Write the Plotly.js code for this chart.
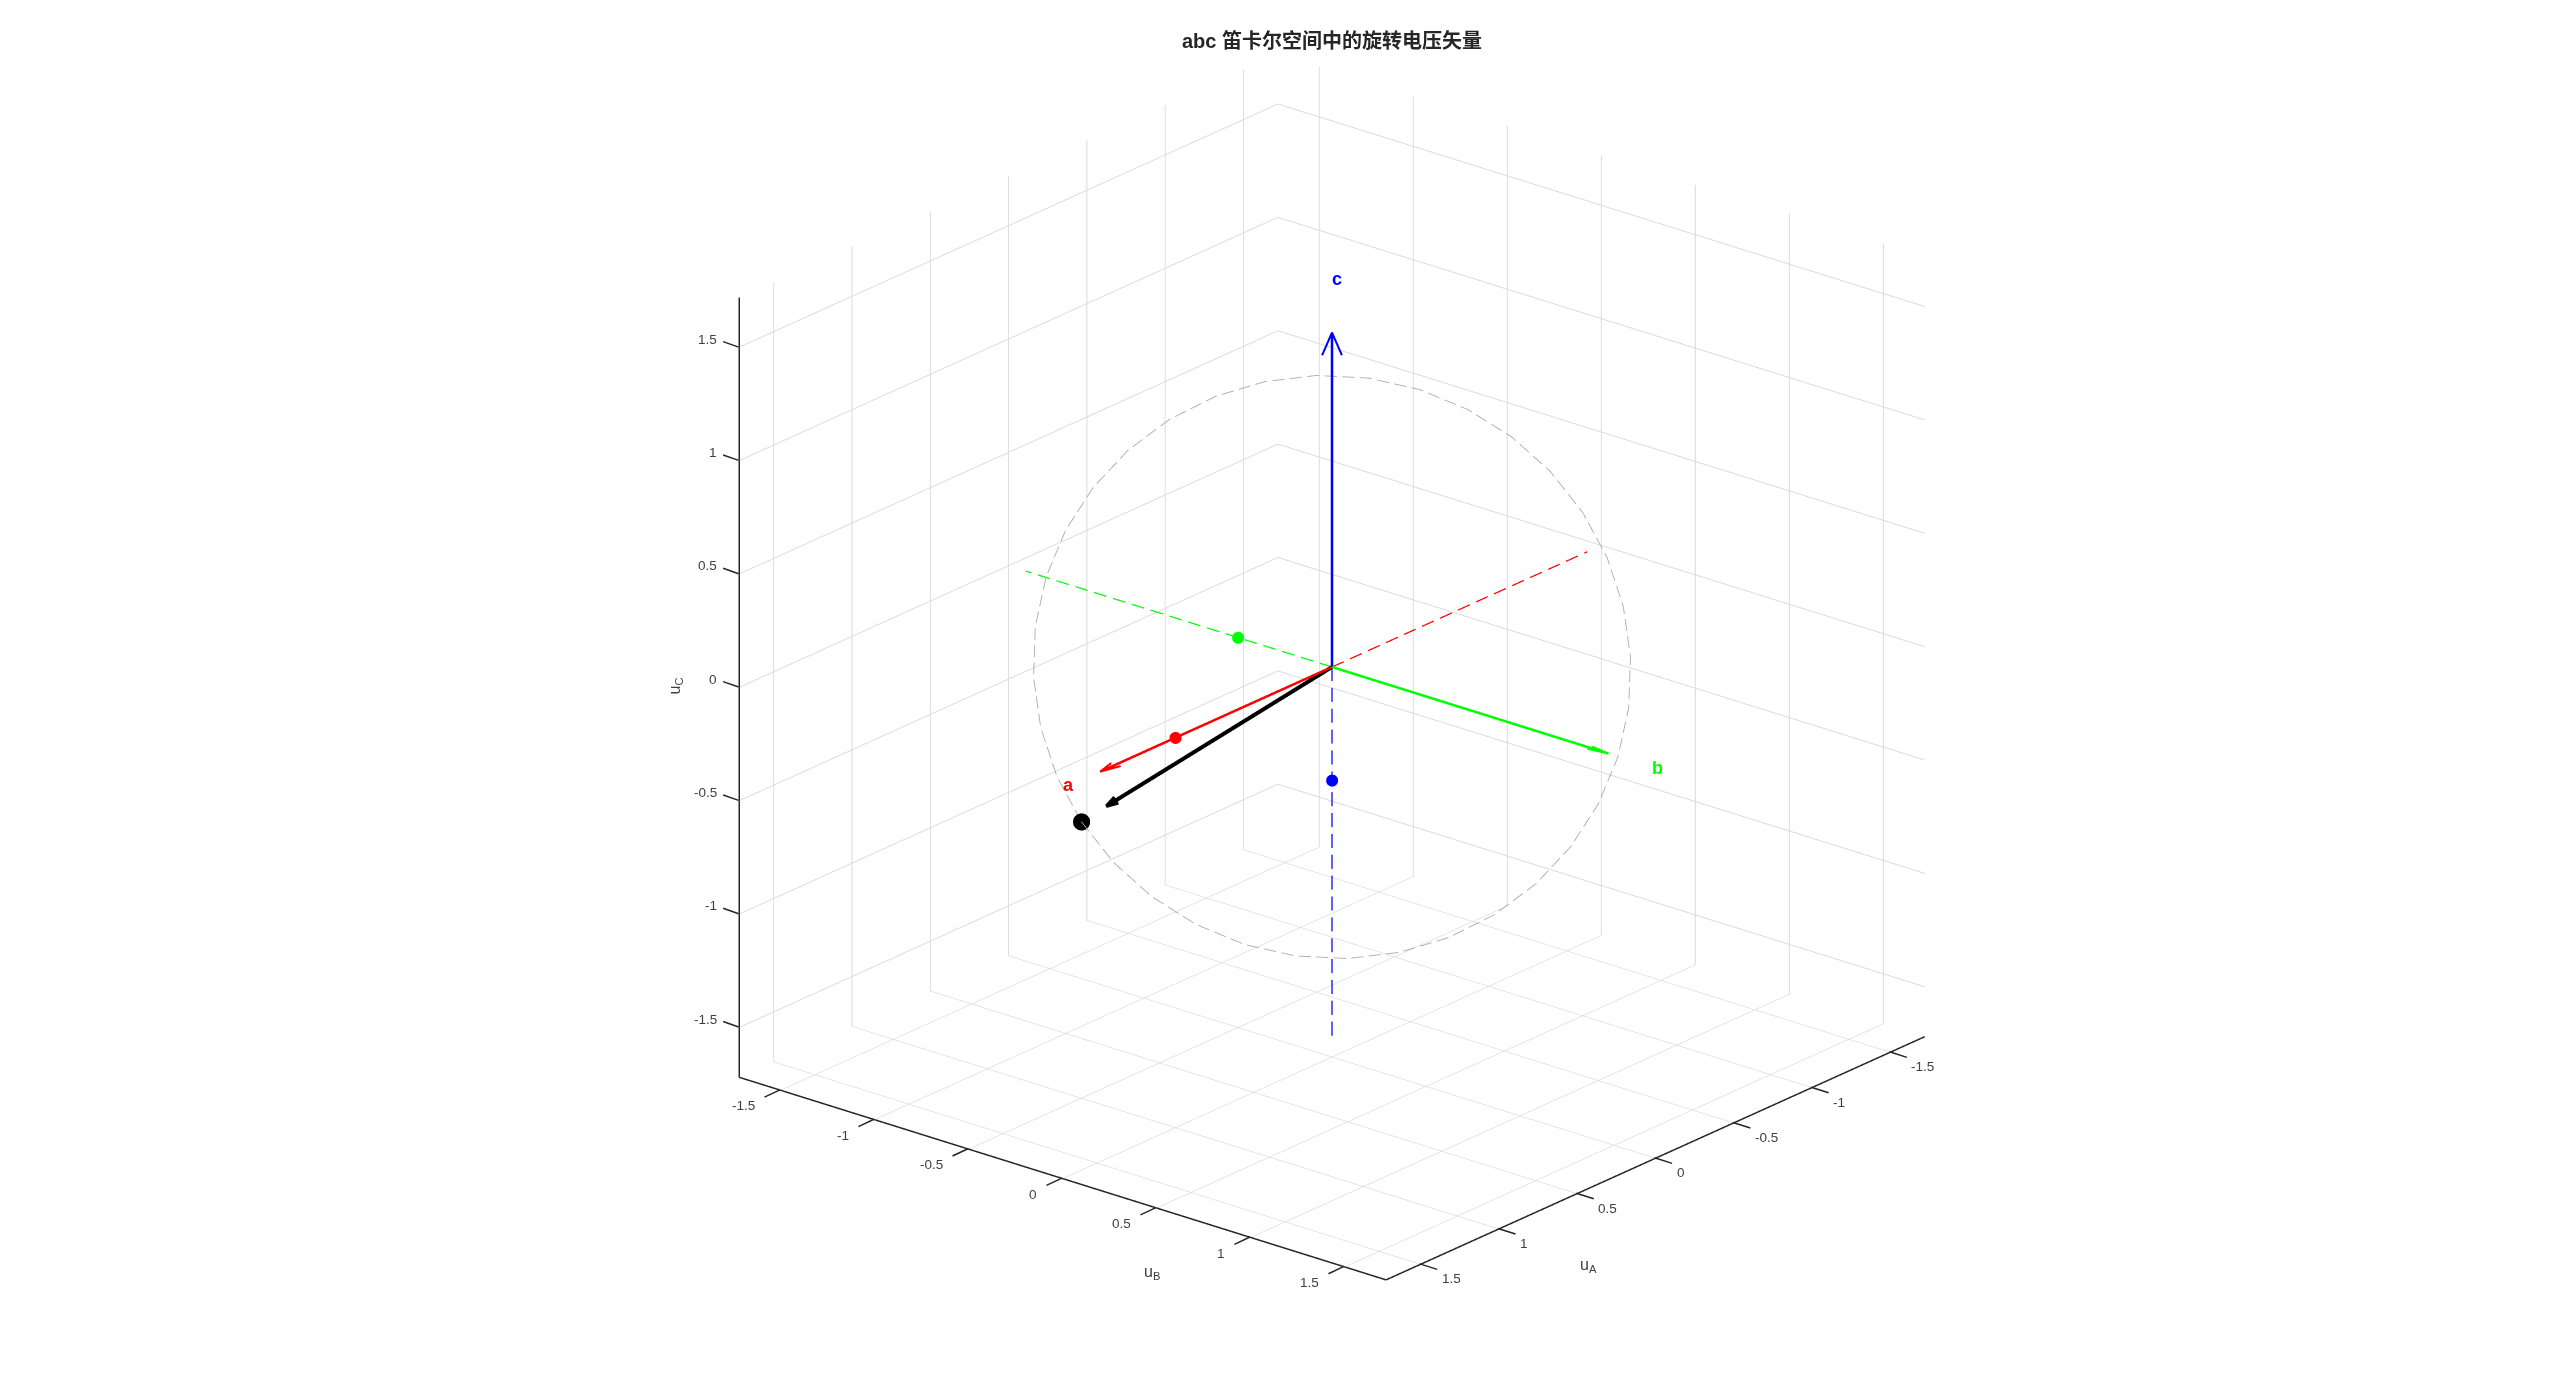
<!DOCTYPE html>
<html><head><meta charset="utf-8">
<script src="https://cdn.plot.ly/plotly-3.0.1.min.js"></script>
<style>html,body{margin:0;padding:0;background:#fff}#p{width:2560px;height:1389px}</style></head>
<body><div id="p"></div>
<script>
const circleA=[1,.985,.940,.866,.766,.643,.5,.342,.174,0,-.174,-.342,-.5,-.643,-.766,-.866,-.940,-.985,-1,-.985,-.940,-.866,-.766,-.643,-.5,-.342,-.174,0,.174,.342,.5,.643,.766,.866,.940,.985,1];
const circleB=[-.5,-.342,-.174,0,.174,.342,.5,.643,.766,.866,.940,.985,1,.985,.940,.866,.766,.643,.5,.342,.174,0,-.174,-.342,-.5,-.643,-.766,-.866,-.940,-.985,-1,-.985,-.940,-.866,-.766,-.643,-.5];
const circleC=[-.5,-.643,-.766,-.866,-.940,-.985,-1,-.985,-.940,-.866,-.766,-.643,-.5,-.342,-.174,0,.174,.342,.5,.643,.766,.866,.940,.985,1,.985,.940,.866,.766,.643,.5,.342,.174,0,-.174,-.342,-.5];
const dotA=[1,0,0], dotB=[0,-.5,0], dotC=[0,0,-.5], dotV=[1,-.5,-.5];
const shaftA=[[0,1.48],[0,0],[0,0]], shaftB=[[0,0],[0,1.47],[0,0]], shaftC=[[0,0],[0,0],[0,1.475]], shaftV=[[0,.9],[0,-.45],[0,-.45]];
const headA=[[1.38,1.48,1.38],[.025,0,-.025],[0,0,0]];
const headB=[[.015,0,-.015],[1.37,1.47,1.37],[0,0,0]];
const headC=[[-.026,0,.026],[.031,0,-.031],[1.375,1.475,1.375]];
const headV=[[.86,.9,.86],[-.42,-.45,-.44],[-.44,-.45,-.42]];
const dashA=[[0,-1.63],[0,0],[0,0]], dashB=[[0,0],[0,-1.63],[0,0]], dashC=[[0,0],[0,0],[0,-1.64]];
const tickVals=[-1.5,-1,-.5,0,.5,1,1.5], tickText=['-1.5','-1','-0.5','0','0.5','1','1.5'];
const axMin=-1.72, axMax=1.72;
const titleText='abc 笛卡尔空间中的旋转电压矢量';

// MATLAB-style dashes: walk a polyline and leave gaps, drawn as solid pieces separated by null
function dashed(p,on,off){
 const out=[[],[],[]];let drawing=true,left=on;
 const n=p[0].length;
 const put=(q)=>{out[0].push(q[0]);out[1].push(q[1]);out[2].push(q[2]);};
 put([p[0][0],p[1][0],p[2][0]]);
 for(let i=1;i<n;i++){
  const a=[p[0][i-1],p[1][i-1],p[2][i-1]],b=[p[0][i],p[1][i],p[2][i]];
  const len=Math.hypot(b[0]-a[0],b[1]-a[1],b[2]-a[2]);let pos=0;
  while(pos+left<len){
   pos+=left;const t=pos/len,q=[a[0]+(b[0]-a[0])*t,a[1]+(b[1]-a[1])*t,a[2]+(b[2]-a[2])*t];
   put(q);
   if(drawing){put([null,null,null]);left=off;drawing=false;}
   else{left=on;drawing=true;}
  }
  left-=len-pos;
  if(drawing)put(b);
 }
 return out;
}
function line(p,color,width){return{type:'scatter3d',mode:'lines',x:p[0],y:p[1],z:p[2],connectgaps:false,line:{color,width},hoverinfo:'skip',showlegend:false};}
function dot(p,color,size){return{type:'scatter3d',mode:'markers',x:[p[0]],y:[p[1]],z:[p[2]],marker:{color,size,line:{width:0}},hoverinfo:'skip',showlegend:false};}
const traces=[
 line(dashed([circleA,circleB,circleC],.05,.022),'#a8a8a8',1.7),
 line(dashed(dashA,.075,.04),'#ff0000',2.5),line(dashed(dashB,.065,.035),'#00ff00',2.5),line(dashed(dashC,.062,.03),'#0000ff',2.5),
 line(shaftA,'#ff0000',5),line(headA,'#ff0000',4),
 line(shaftB,'#00ff00',5),line(headB,'#00ff00',4),
 line(shaftC,'#0000ff',5),line(headC,'#0000ff',4),
 line(shaftV,'#000000',8),line(headV,'#000000',7),
 dot(dotA,'#ff0000',7),dot(dotB,'#00ff00',7),dot(dotC,'#0000ff',7),dot(dotV,'#000000',10),
 line([[axMax,axMax],[axMin,axMin],[axMin,axMax]],'#262626',3),
 line([[axMax,axMax],[axMin,axMax],[axMin,axMin]],'#262626',3),
 line([[axMax,axMin],[axMax,axMax],[axMin,axMin]],'#262626',3)
];
function ax(){return{range:[axMin,axMax],autorange:false,tickmode:'array',tickvals:tickVals,showticklabels:false,showgrid:true,gridcolor:'#dadada',gridwidth:2,
 zeroline:false,showline:false,ticks:'',showbackground:false,title:{text:''},showspikes:false};}
function lab(x,y,z,text,color,size,extra){return Object.assign({x,y,z,text,showarrow:false,font:{family:'Liberation Sans',size,color},xanchor:'center',yanchor:'middle'},extra||{});}
function tick(x,y,z,ax_,ay_){return{x,y,z,text:' ',font:{size:1},showarrow:true,arrowhead:0,arrowwidth:1.5,arrowcolor:'#262626',standoff:0,ax:ax_,ay:ay_};}
const anns=[
 lab(1.68,0,0,'<b>a</b>','#ff0000',18),lab(0,axMax,0,'<b>b</b>','#00ff00',18,{xshift:3}),lab(0,0,1.71,'<b>c</b>','#0000ff',18,{xshift:6}),
 lab(1.093,axMax,axMin,'u<sub>A</sub>','#404040',16,{xshift:105,yshift:-30}),lab(axMax,.971,axMin,'u<sub>B</sub>','#404040',16,{xshift:-92,yshift:-37}),lab(axMax,axMin,-.087,'u<sub>C</sub>','#404040',16,{textangle:-90,xshift:-63,yshift:21})
];
tickVals.forEach((v,i)=>{
 const t=tickText[i];
 anns.push(tick(axMax,axMin,v,-17,-6),tick(axMax,v,axMin,-17,8),tick(v,axMax,axMin,19,6));
 anns.push(lab(axMax,axMin,v,t,'#404040',13.5,{xanchor:'right',xshift:-20,yshift:8}));
 anns.push(lab(axMax,v,axMin,t,'#404040',13.5,{xanchor:'right',xshift:-23,yshift:-16}));
 anns.push(lab(v,axMax,axMin,t,'#404040',13.5,{xanchor:'left',xshift:20,yshift:-15}));
});
const k=1.74, asp=1.262;
const layout={width:2560,height:1389,paper_bgcolor:'#fff',margin:{l:0,r:0,t:0,b:0},showlegend:false,
 title:{text:'<b>'+titleText+'</b>',x:1332/2560,xanchor:'center',y:1-41/1389,yanchor:'middle',font:{family:'Liberation Sans, Noto Sans CJK SC',size:20,color:'#262626'}},
 scene:{domain:{x:[102.5/2560,1],y:[55.5/1389,1]},aspectmode:'manual',aspectratio:{x:asp,y:asp,z:asp},
  camera:{eye:{x:.712*k,y:.593*k,z:.376*k},center:{x:0,y:0,z:0},up:{x:0,y:0,z:1},projection:{type:'orthographic'}},
  xaxis:ax(),yaxis:ax(),zaxis:ax(),annotations:anns}};
Plotly.newPlot('p',traces,layout,{displayModeBar:false});
</script></body></html>
